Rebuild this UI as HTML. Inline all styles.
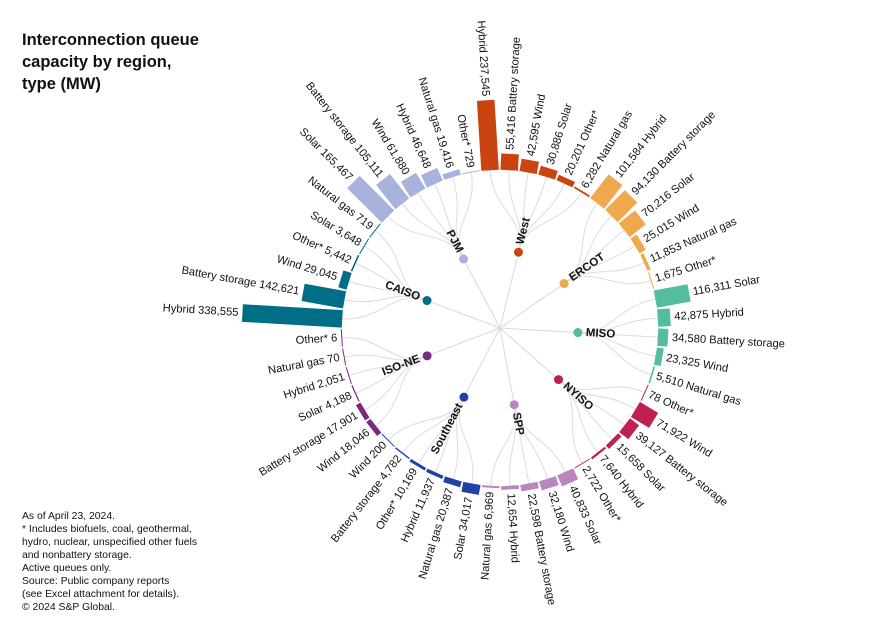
<!DOCTYPE html>
<html><head><meta charset="utf-8"><style>
body{margin:0;background:#fff;width:872px;height:633px;overflow:hidden;font-family:"Liberation Sans",sans-serif}
#title{position:absolute;left:22px;top:29px;font-size:16.5px;font-weight:bold;line-height:22px;color:#111}
#notes{position:absolute;left:22px;top:510px;font-size:10.4px;line-height:13px;color:#111}
svg{position:absolute;left:0;top:0}
</style></head><body>
<div id="title">Interconnection queue<br>capacity by region,<br>type (MW)</div>
<div id="notes">As of April 23, 2024.<br>* Includes biofuels, coal, geothermal,<br>hydro, nuclear, unspecified other fuels<br>and nonbattery storage.<br>Active queues only.<br>Source: Public company reports<br>(see Excel attachment for details).<br>© 2024 S&amp;P Global.</div>
<svg id="chart" width="872" height="633"></svg>
<script>
const regions = ["West","ERCOT","MISO","NYISO","SPP","Southeast","ISO-NE","CAISO","PJM"];
const regionColors = ["#c94410","#f0a84c","#55bca0","#bd2051","#b986be","#2140a8","#7b2a84","#006e87","#a8b3dd"];
const westTypes = ["Hybrid","Battery storage","Wind","Solar","Other*","Natural gas"];
const westValues = [237545,55416,42595,30886,20201,6282];
const ercotTypes = ["Hybrid","Battery storage","Solar","Wind","Natural gas","Other*"];
const ercotValues = [101584,94130,70216,25015,11853,1675];
const misoTypes = ["Solar","Hybrid","Battery storage","Wind","Natural gas"];
const misoValues = [116311,42875,34580,23325,5510];
const nyisoTypes = ["Other*","Wind","Battery storage","Solar","Hybrid","Other*"];
const nyisoValues = [78,71922,39127,15658,7640,2722];
const sppTypes = ["Solar","Wind","Battery storage","Hybrid","Natural gas"];
const sppValues = [40833,32180,22598,12654,6969];
const seTypes = ["Solar","Natural gas","Hybrid","Other*","Battery storage","Wind"];
const seValues = [34017,20387,11937,10169,4782,200];
const isoneTypes = ["Wind","Battery storage","Solar","Hybrid","Natural gas","Other*"];
const isoneValues = [18046,17901,4188,2051,70,6];
const caisoTypes = ["Hybrid","Battery storage","Wind","Other*","Solar","Natural gas"];
const caisoValues = [338555,142621,29045,5442,3648,719];
const pjmTypes = ["Solar","Battery storage","Wind","Hybrid","Natural gas","Other*"];
const pjmValues = [165467,105111,61880,46648,19416,729];

const typeLists=[westTypes,ercotTypes,misoTypes,nyisoTypes,sppTypes,seTypes,isoneTypes,caisoTypes,pjmTypes];
const valueLists=[westValues,ercotValues,misoValues,nyisoValues,sppValues,seValues,isoneValues,caisoValues,pjmValues];

const NS="http://www.w3.org/2000/svg";
const svg=document.getElementById('chart');
const cx=500, cy=328, r0=158, rDot=78, theta0=-3.6;
const maxV=338555, maxLen=100;
const lenScale=v=>Math.max(1,v/maxV*maxLen);
const total=valueLists.reduce((s,a)=>s+a.length,0);
const step=360/total;
const angleOf=i=>theta0+i*step;
const pt=(a,r)=>[cx+r*Math.sin(a*Math.PI/180), cy-r*Math.cos(a*Math.PI/180)];
const fmt=v=>v.toLocaleString('en-US');
function mk(tag,attrs){const e=document.createElementNS(NS,tag);for(const k in attrs)e.setAttribute(k,attrs[k]);return e;}
const lay1=mk('g',{}),lay2=mk('g',{}),lay3=mk('g',{});
svg.appendChild(lay1);svg.appendChild(lay2);svg.appendChild(lay3);

let idx=0;
regions.forEach((reg,ri)=>{
  const vals=valueLists[ri], types=typeLists[ri], col=regionColors[ri];
  const mean=angleOf(idx+(vals.length-1)/2);
  const [dx,dy]=pt(mean,rDot);
  const spoke=mk('line',{x1:cx,y1:cy,x2:dx,y2:dy,stroke:'#d9d9d9','stroke-width':1});
  
  
  lay1.appendChild(spoke);
  vals.forEach((v,j)=>{
    const a=angleOf(idx);
    const [c1x,c1y]=pt(mean,rDot+35);
    const [c2x,c2y]=pt(a,r0-40);
    const [bx,by]=pt(a,r0);
    const curve=mk('path',{d:`M${dx},${dy} C${c1x},${c1y} ${c2x},${c2y} ${bx},${by}`,fill:'none',stroke:'#dcdcdc','stroke-width':1});
    
    
    lay1.appendChild(curve);
    const L=lenScale(v);
    const g=mk('g',{transform:`translate(${cx},${cy}) rotate(${a})`});
    const w=2*r0*Math.sin(step*Math.PI/360)-1.5;
    const bar=mk('rect',{x:-w/2,y:-(r0+L),width:w,height:L,fill:col});
    
    
    g.appendChild(bar);lay2.appendChild(g);
    const norm=((a%360)+360)%360;
    const right=norm>0&&norm<180;
    const tg=mk('g',{transform:`translate(${cx},${cy}) rotate(${right?a-90:a+90})`});
    const t=mk('text',{x:right?(r0+L+4):-(r0+L+4),y:0,'dominant-baseline':'central','text-anchor':right?'start':'end','font-size':'11.2',fill:'#111'});
    t.textContent=right?`${fmt(v)} ${types[j]}`:`${types[j]} ${fmt(v)}`;
    
    
    tg.appendChild(t);lay3.appendChild(tg);
    idx++;
  });
  const dot=mk('circle',{cx:dx,cy:dy,r:4.5,fill:col});
  
  
  lay3.appendChild(dot);
  const norm=((mean%360)+360)%360;
  const right=norm>0&&norm<180;
  const rg=mk('g',{transform:`translate(${cx},${cy}) rotate(${right?mean-90:mean+90})`});
  const rt=mk('text',{x:right?rDot+8:-(rDot+8),y:0,'dominant-baseline':'central','text-anchor':right?'start':'end','font-size':'11.5','font-weight':'bold',fill:'#111'});
  rt.textContent=reg;
  
  
  rg.appendChild(rt);lay3.appendChild(rg);
});
</script>
</body></html>
